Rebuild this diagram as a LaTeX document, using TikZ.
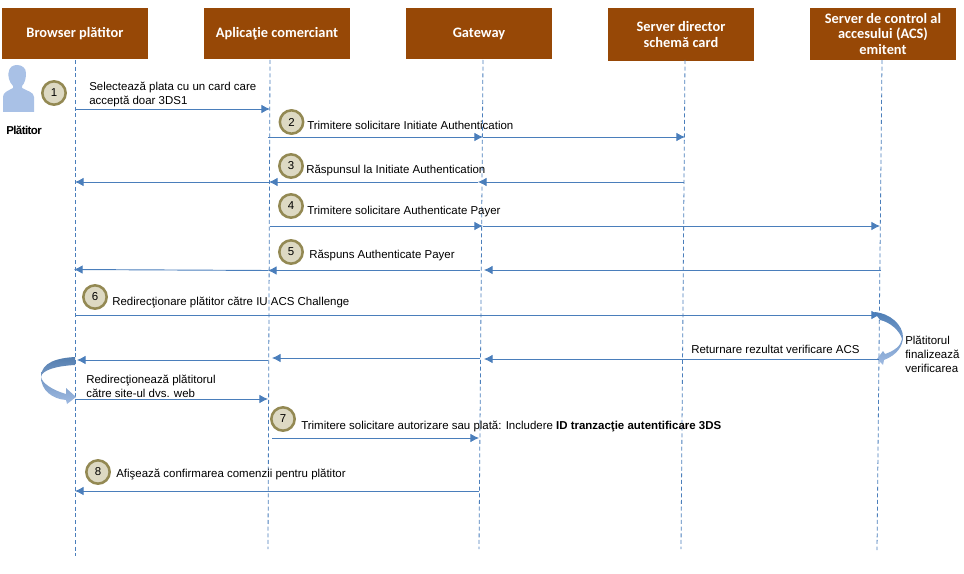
\documentclass[tikz,border=0pt]{standalone}
\usepackage{fontspec}
\setmainfont{Liberation Sans}
\newfontfamily\headfont{Carlito}
\newfontfamily\tightfont[LetterSpace=-5]{Liberation Sans}
\usepackage{xcolor}
\usetikzlibrary{arrows.meta, calc, positioning}
\definecolor{headbrown}{HTML}{974806}
\definecolor{flowblue}{HTML}{4A7EBB}
\definecolor{badgefill}{HTML}{DDD9C3}
\definecolor{badgeline}{HTML}{938953}
\definecolor{personblue}{HTML}{A9C1E6}
\tikzset{
    headbox/.style={draw=none, fill=headbrown, text=white, minimum width=109.5pt, align=center, inner sep=0pt, font=\headfont\bfseries\fontsize{10.8}{11.8}\selectfont},
    lifeline/.style={draw=flowblue, densely dashed, line width=0.6pt},
    message/.style={draw=flowblue, line width=0.7pt, -{Latex[length=6.5pt,width=6.5pt]}},
    badge/.style={draw=badgeline, fill=badgefill, circle, line width=1.9pt, minimum size=17.5pt, inner sep=0pt, font=\fontsize{8.6}{9}\selectfont},
    steplabel/.style={anchor=west, inner sep=0pt, align=left, font=\fontsize{8.6}{10.4}\selectfont}
}
\begin{document}
\begin{tikzpicture}[x=0.75pt, y=-0.75pt]
    \useasboundingbox (0,0) rectangle (964,574);

    % headers
    \node[headbox, minimum height=38.25pt] (B) at (75,33.5) {\raisebox{-1pt}{Browser plătitor}};
    \node[headbox, minimum height=38.25pt] (A) at (277,33.5) {\raisebox{-1pt}{Aplicaţie comerciant}};
    \node[headbox, minimum height=38.25pt] (G) at (479,33.5) {\raisebox{-1pt}{Gateway}};
    \node[headbox, minimum height=39.75pt] (D) at (681,34.5) {Server director\\schemă card};
    \node[headbox, minimum height=39pt] (C) at (883,34) {Server de control al\\accesului (ACS)\\emitent};

    % lifelines
    \coordinate (B0) at (75,60);
    \coordinate (B9) at (75,556);
    \coordinate (A0) at (270,60);
    \coordinate (A9) at (268,549);
    \coordinate (G0) at (483,60);
    \coordinate (G9) at (479,549);
    \coordinate (D0) at (685,60);
    \coordinate (D9) at (681,549);
    \coordinate (C0) at (882,60);
    \coordinate (C9) at (877,550);
    \draw [lifeline] (B0) -- (B9);
    \draw [lifeline] (A0) -- (A9);
    \draw [lifeline] (G0) -- (G9);
    \draw [lifeline] (D0) -- (D9);
    \draw [lifeline] (C0) -- (C9);

    % person
    \fill [personblue] (3,112) -- (3,97) .. controls (3,92) and (8,91) .. (13,88) -- (13,86) .. controls (9,82) and (8,76) .. (8.5,73) .. controls (9,67) and (13,65) .. (17,65) .. controls (22,65) and (26,68) .. (26,73) .. controls (26,78) and (25,83) .. (22,86) -- (22,88) .. controls (27,91) and (34,92) .. (34,97) -- (34,112) -- cycle;
    \node[inner sep=0pt, font=\tightfont\bfseries\fontsize{8.6}{10}\selectfont] (P) at (24,130) {Plătitor};

    % curved arrows
    \shade [top color=flowblue!80!gray, bottom color=personblue!90!flowblue] (75,357) .. controls (58,358) and (41,362) .. (41,377) .. controls (42,383) and (52,390) .. (66,394) -- (66,388) -- (76,397) -- (67,404) -- (66,400) .. controls (52,399) and (41,390) .. (41,377) .. controls (42,370) and (56,366) .. (75,365) -- cycle;
    \shade [top color=flowblue!90!gray, bottom color=personblue!90!flowblue] (874,312) .. controls (890,313) and (903,325) .. (903,337) .. controls (903,346) and (897,355) .. (884,360) -- (883,365) -- (877,359) -- (883,351) -- (885,354) .. controls (894,351) and (901,346) .. (902,339) .. controls (900,331) and (890,322) .. (880,320) -- cycle;

    % messages
    \coordinate (B1) at (75,109);
    \coordinate (A1) at (270,109);
    \draw [message] (B1) -- (A1);

    \coordinate (A2) at (268,137);
    \coordinate (G2) at (483,137);
    \coordinate (D2) at (685,137);
    \draw [message] (A2) -- (G2);
    \draw [message] (G2) -- (D2);

    \coordinate (D3) at (684,182);
    \coordinate (G3) at (478,182);
    \coordinate (A3) at (269,182);
    \coordinate (B3) at (75,182);
    \draw [message] (D3) -- (G3);
    \draw [message] (G3) -- (A3);
    \draw [message] (A3) -- (B3);

    \coordinate (A4) at (270,226);
    \coordinate (G4) at (483,226);
    \coordinate (C4) at (880,226);
    \draw [message] (A4) -- (G4);
    \draw [message] (G4) -- (C4);

    \coordinate (C5) at (881,270);
    \coordinate (G5) at (484,270);
    \coordinate (G6) at (480,270.5);
    \coordinate (A5) at (268,270.5);
    \coordinate (B5) at (74,269.5);
    \draw [message] (C5) -- (G5);
    \draw [message] (G6) -- (A5);
    \draw [message] (A5) -- (B5);

    \coordinate (B6) at (75,315);
    \coordinate (C6) at (880,315);
    \draw [message] (B6) -- (C6);

    \coordinate (C7) at (879,359);
    \coordinate (G7) at (484,359);
    \coordinate (G8) at (480,358);
    \coordinate (A7) at (272,358);
    \coordinate (A8) at (268,360);
    \coordinate (B7) at (77,360);
    \draw [message] (C7) -- (G7);
    \draw [message] (G8) -- (A7);
    \draw [message] (A8) -- (B7);

    \coordinate (B8) at (75,399);
    \coordinate (A10) at (268,399);
    \draw [message] (B8) -- (A10);

    \coordinate (A11) at (272,438);
    \coordinate (G11) at (479,438);
    \draw [message] (A11) -- (G11);

    \coordinate (G12) at (479,491);
    \coordinate (B12) at (75,491);
    \draw [message] (G12) -- (B12);

    % badges
    \node[badge] (N1) at (54,93) {1};
    \node[badge] (N2) at (291.5,122) {2};
    \node[badge] (N3) at (291,166) {3};
    \node[badge] (N4) at (291,206) {4};
    \node[badge] (N5) at (291,252) {5};
    \node[badge] (N6) at (95,297) {6};
    \node[badge] (N7) at (283,419) {7};
    \node[badge] (N8) at (98,472) {8};

    % labels
    \node[steplabel] (L1) at (89,94.5) {Selectează plata cu un card care\\acceptă doar 3DS1};
    \node[steplabel] (L2) at (307,125) {Trimitere solicitare Initiate Authentication};
    \node[steplabel] (L3) at (306,170) {Răspunsul la Initiate Authentication};
    \node[steplabel] (L4) at (307,212) {Trimitere solicitare Authenticate Payer};
    \node[steplabel] (L5) at (309,255) {Răspuns Authenticate Payer};
    \node[steplabel] (L6) at (112,302) {Redirecţionare plătitor către IU ACS Challenge};
    \node[steplabel] (L7) at (691,349) {Returnare rezultat verificare ACS};
    \node[steplabel] (L8) at (905,354.5) {Plătitorul\\finalizează\\verificarea};
    \node[steplabel] (L9) at (86,386.5) {Redirecţionează plătitorul\\către site-ul dvs. web};
    \node[steplabel] (L10) at (301,426) {Trimitere solicitare autorizare sau plată: Includere \textbf{ID tranzacţie autentificare 3DS}};
    \node[steplabel] (L11) at (116,474) {Afişează confirmarea comenzii pentru plătitor};
\end{tikzpicture}
\end{document}
